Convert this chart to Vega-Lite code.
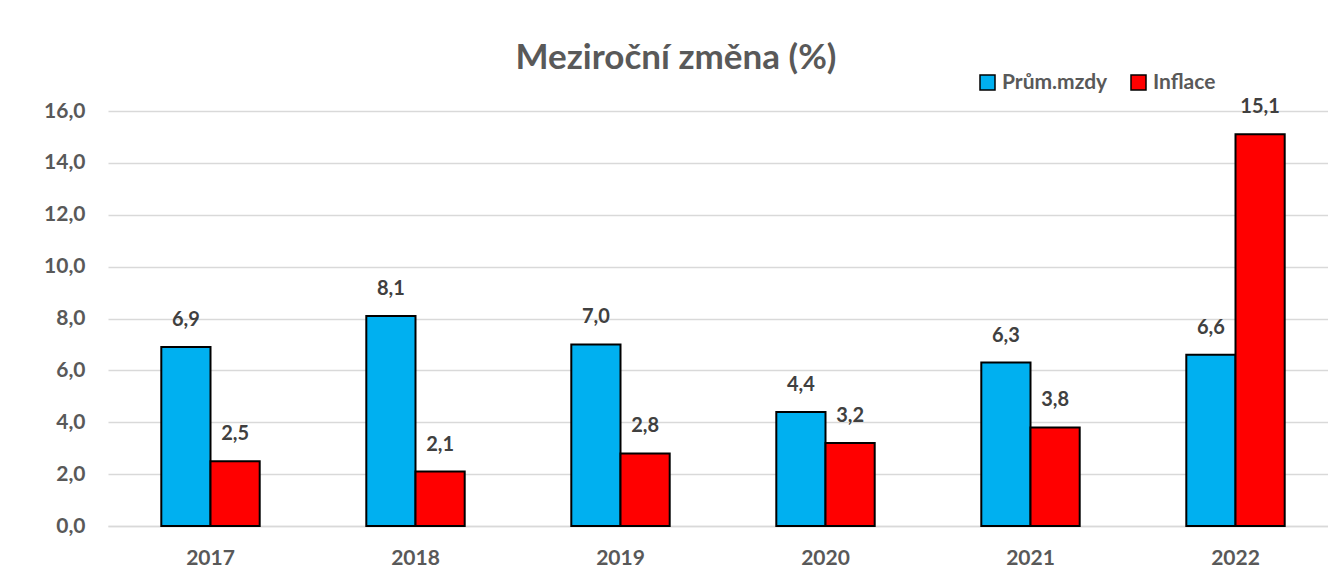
{
  "$schema": "https://vega.github.io/schema/vega-lite/v6.json",
  "width": 1230,
  "height": 415,
  "autosize": {"type": "none"},
  "padding": {"left": 108, "top": 111, "right": 0, "bottom": 55},
  "background": "white",
  "config": {
    "locale": {"number": {"decimal": ",", "thousands": " ", "grouping": [3], "currency": ["", " Kč"]}},
    "font": "Lato",
    "view": {"stroke": null},
    "axis": {"labelFont": "Lato", "labelFontWeight": "bold", "labelColor": "#595959", "labelFontSize": 21}
  },
  "title": {
    "text": "Meziroční změna (%)",
    "font": "Lato",
    "fontSize": 35,
    "fontWeight": "bold",
    "color": "#595959",
    "anchor": "middle",
    "baseline": "alphabetic",
    "dx": -47,
    "offset": -32
  },
  "data": {
    "values": [
      {"year": "2017", "series": "Prům.mzdy", "value": 6.9},
      {"year": "2017", "series": "Inflace", "value": 2.5},
      {"year": "2018", "series": "Prům.mzdy", "value": 8.1},
      {"year": "2018", "series": "Inflace", "value": 2.1},
      {"year": "2019", "series": "Prům.mzdy", "value": 7.0},
      {"year": "2019", "series": "Inflace", "value": 2.8},
      {"year": "2020", "series": "Prům.mzdy", "value": 4.4},
      {"year": "2020", "series": "Inflace", "value": 3.2},
      {"year": "2021", "series": "Prům.mzdy", "value": 6.3},
      {"year": "2021", "series": "Inflace", "value": 3.8},
      {"year": "2022", "series": "Prům.mzdy", "value": 6.6},
      {"year": "2022", "series": "Inflace", "value": 15.1}
    ]
  },
  "encoding": {
    "x": {
      "field": "year", "type": "nominal",
      "scale": {"paddingInner": 0.52, "paddingOuter": 0.26},
      "axis": {"title": null, "labelAngle": 0, "ticks": false, "domain": true, "domainColor": "#D9D9D9", "domainWidth": 1.5, "labelPadding": 21, "grid": false}
    },
    "xOffset": {"field": "series", "type": "nominal", "sort": ["Prům.mzdy", "Inflace"], "scale": {"paddingInner": 0, "paddingOuter": 0}},
    "y": {
      "field": "value", "type": "quantitative",
      "scale": {"domain": [0, 16]},
      "axis": {"title": null, "values": [0, 2, 4, 6, 8, 10, 12, 14, 16], "format": ".1f", "ticks": false, "domain": false, "gridColor": "#D9D9D9", "gridWidth": 1.5, "labelPadding": 23}
    }
  },
  "layer": [
    {
      "mark": {"type": "bar", "stroke": "black", "strokeWidth": 2},
      "encoding": {
        "color": {
          "field": "series", "type": "nominal",
          "scale": {"domain": ["Prům.mzdy", "Inflace"], "range": ["#00B0F0", "#FF0000"]},
          "legend": {
            "title": null, "orient": "none", "direction": "horizontal",
            "legendX": 869, "legendY": -39,
            "symbolType": "square", "symbolSize": 225, "symbolStrokeColor": "black", "symbolStrokeWidth": 1.5,
            "labelFont": "Lato", "labelFontSize": 21, "labelFontWeight": "bold", "labelColor": "#595959",
            "columnPadding": 20, "labelOffset": 4
          }
        }
      }
    },
    {
      "mark": {"type": "text", "font": "Lato", "fontWeight": "bold", "fontSize": 20, "color": "#404040", "baseline": "middle", "dy": -27},
      "encoding": {
        "text": {"field": "value", "type": "quantitative", "format": ".1f"}
      }
    }
  ]
}
